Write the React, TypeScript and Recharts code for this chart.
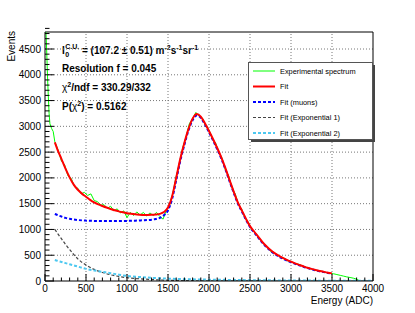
import {
  ComposedChart,
  Line,
  XAxis,
  YAxis,
  ReferenceLine,
  Legend,
  Customized,
} from "recharts";

// experimental spectrum (histogram contents)
const spectrumEnergy = [
  10, 20, 30, 40, 50, 60, 80, 100, 120, 160, 200, 240, 280, 320, 360, 400,
  440, 480, 520, 560, 600, 640, 680, 720, 760, 800, 840, 880, 920, 960, 1000,
  1040, 1080, 1120, 1160, 1200, 1240, 1280, 1320, 1360, 1400, 1440, 1480,
  1520, 1560, 1600, 1640, 1680, 1720, 1760, 1800, 1840, 1880, 1920, 1960,
  2000, 2040, 2080, 2120, 2160, 2200, 2240, 2280, 2320, 2360, 2400, 2440,
  2480, 2520, 2560, 2600, 2640, 2680, 2720, 2760, 2800, 2840, 2880, 2920,
  2960, 3000, 3040, 3080, 3120, 3160, 3200, 3240, 3280, 3320, 3360, 3400,
  3440, 3480, 3520, 3560, 3600, 3640, 3680, 3720, 3760, 3800, 3840,
];
const spectrumCounts = [
  4900, 4500, 4000, 3600, 3250, 3050, 2960, 2900, 2700, 2540, 2330, 2250,
  2040, 1990, 1830, 1800, 1690, 1720, 1660, 1690, 1560, 1540, 1470, 1480,
  1410, 1450, 1360, 1400, 1320, 1360, 1230, 1330, 1270, 1340, 1280, 1330,
  1260, 1320, 1270, 1330, 1250, 1200, 1380, 1480, 1710, 2030, 2280, 2590,
  2790, 3050, 3150, 3270, 3200, 3160, 3000, 2930, 2760, 2680, 2500, 2380,
  2150, 2040, 1810, 1690, 1480, 1390, 1210, 1140, 1000, 950, 840, 780, 690,
  640, 560, 540, 500, 450, 440, 390, 380, 340, 330, 310, 270, 260, 240, 210,
  205, 190, 180, 158, 150, 140, 125, 110, 95, 80, 68, 55, 35, 0,
];

// fit and its muon component
const fitEnergy = [
  120, 150, 200, 250, 300, 350, 400, 450, 500, 550, 600, 650, 700, 750, 800,
  850, 900, 950, 1000, 1050, 1100, 1150, 1200, 1250, 1300, 1350, 1400, 1450,
  1500, 1550, 1600, 1650, 1700, 1750, 1800, 1850, 1900, 1950, 2000, 2050,
  2100, 2150, 2200, 2250, 2300, 2350, 2400, 2450, 2500, 2550, 2600, 2650,
  2700, 2750, 2800, 2850, 2900, 2950, 3000, 3050, 3100, 3150, 3200, 3250,
  3300, 3350, 3400, 3450, 3500,
];
const fitTotal = [
  2690, 2560, 2370, 2180, 2010, 1870, 1770, 1695, 1635, 1575, 1525, 1487,
  1455, 1425, 1398, 1372, 1350, 1332, 1316, 1303, 1293, 1286, 1281, 1280,
  1283, 1290, 1302, 1338, 1425, 1640, 2000, 2370, 2680, 2950, 3150, 3240,
  3190, 3060, 2910, 2750, 2580, 2400, 2190, 1960, 1740, 1530, 1370, 1210,
  1065, 960, 860, 760, 675, 600, 540, 490, 448, 410, 375, 343, 313, 285, 258,
  235, 214, 195, 178, 162, 148,
];
const fitMuons = [
  1300, 1280, 1250, 1225, 1207, 1193, 1183, 1176, 1171, 1168, 1166, 1164,
  1163, 1162, 1162, 1162, 1163, 1164, 1166, 1168, 1171, 1174, 1178, 1183,
  1190, 1202, 1225, 1275, 1370, 1590, 1955, 2330, 2645, 2920, 3120, 3212,
  3165, 3035, 2885, 2725, 2555, 2376, 2167, 1938, 1718, 1509, 1350, 1190,
  1046, 942, 842, 743, 659, 585, 526, 477, 435, 398, 364, 333, 304, 277, 250,
  228, 207, 188, 172, 156, 142,
];

// exponential components
const expEnergy = [
  120, 150, 200, 250, 300, 400, 500, 600, 700, 800, 900, 1000, 1200, 1400,
  1600, 1800, 2000, 2500, 3000, 3500, 4000,
];
const fitExp1 = [
  1000, 930, 820, 710, 610, 430, 310, 225, 165, 120, 88, 64, 38, 20, 11, 6, 3,
  1, 0, 0, 0,
];
const fitExp2 = [
  407, 392, 370, 347, 325, 280, 235, 205, 178, 152, 122, 98, 72, 52, 40, 32,
  26, 16, 10, 6, 3,
];

const xMajor = [0, 500, 1000, 1500, 2000, 2500, 3000, 3500, 4000];
const yMajor = [0, 500, 1000, 1500, 2000, 2500, 3000, 3500, 4000, 4500];
const Y_MAX = 4830;

const legendItems = [
  { name: "Experimental spectrum", color: "#00ff00", width: 1, dash: "" },
  { name: "Fit", color: "#ff0000", width: 2, dash: "" },
  { name: "Fit (muons)", color: "#0000ff", width: 2, dash: "3 2" },
  { name: "Fit (Exponential 1)", color: "#444444", width: 1.2, dash: "3 2" },
  { name: "Fit (Exponential 2)", color: "#4dc8f0", width: 2, dash: "3 2" },
];

const toPoints = (xs: number[], ys: number[]) =>
  xs.map((e, i) => ({ e, v: ys[i] }));

const spectrumData = toPoints(spectrumEnergy, spectrumCounts);
const totalData = toPoints(fitEnergy, fitTotal);
const muonData = toPoints(fitEnergy, fitMuons);
const exp1Data = toPoints(expEnergy, fitExp1);
const exp2Data = toPoints(expEnergy, fitExp2);

// minor ticks every 100 between the major ones
const xTicks = xMajor.flatMap((v, i) =>
  i < xMajor.length - 1 ? [v, v + 100, v + 200, v + 300, v + 400] : [v]
);
const yTicks = yMajor.flatMap((v) => [v, v + 100, v + 200, v + 300, v + 400]);

const FONT = "'Liberation Sans', Arial, sans-serif";

const XTick = ({ x, y, payload }: any) => {
  const major = payload.value % 500 === 0;
  return (
    <g>
      <line x1={x} x2={x} y1={y} y2={y - (major ? 7 : 3.5)} stroke="#000" />
      {major && (
        <text x={x} y={y + 11} textAnchor="middle" fontSize={10} fontFamily={FONT} fill="#000">
          {payload.value}
        </text>
      )}
    </g>
  );
};

const YTick = ({ x, y, payload }: any) => {
  const major = payload.value % 500 === 0;
  return (
    <g>
      <line x1={x} x2={x + (major ? 9 : 4.5)} y1={y} y2={y} stroke="#000" />
      {major && (
        <text x={x - 4} y={y + 3.5} textAnchor="end" fontSize={10} fontFamily={FONT} fill="#000">
          {payload.value}
        </text>
      )}
    </g>
  );
};

const renderLegend = () => (
  <svg width={128} height={81}>
    <rect x={3} y={3} width={124} height={77} fill="#444" />
    <rect x={0.5} y={0.5} width={124} height={77} fill="#fff" stroke="#555" />
    {legendItems.map((item, i) => {
      const cy = 9 + i * 15.5;
      return (
        <g key={item.name}>
          <line
            x1={5}
            x2={27}
            y1={cy}
            y2={cy}
            stroke={item.color}
            strokeWidth={item.width}
            strokeDasharray={item.dash}
          />
          <text x={32} y={cy + 2.6} fontSize={7.4} fontFamily={FONT} fill="#000">
            {item.name}
          </text>
        </g>
      );
    })}
  </svg>
);

const Annotations = () => (
  <g fontFamily={FONT} fontWeight="bold" fill="#000">
    <text x={62} y={54} fontSize={10}>
      <tspan>I</tspan>
      <tspan fontSize={7} dx={0.5} dy={3}>0</tspan>
      <tspan fontSize={7} dx={-4} dy={-8}>C.U.</tspan>
      <tspan fontSize={10} dy={5}> = (107.2 ±  0.51) m</tspan>
      <tspan fontSize={7} dy={-4}>-2</tspan>
      <tspan fontSize={10} dy={4}>s</tspan>
      <tspan fontSize={7} dy={-4}>-1</tspan>
      <tspan fontSize={10} dy={4}>sr</tspan>
      <tspan fontSize={7} dy={-4}>-1</tspan>
    </text>
    <text x={62} y={72} fontSize={10}>Resolution f = 0.045</text>
    <text x={62} y={91} fontSize={10}>
      <tspan fontWeight="normal">χ</tspan>
      <tspan fontSize={7} dy={-4}>2</tspan>
      <tspan dy={4}>/ndf = 330.29/332</tspan>
    </text>
    <text x={62} y={110} fontSize={10}>
      <tspan>P(</tspan>
      <tspan fontWeight="normal">χ</tspan>
      <tspan fontSize={7} dy={-4}>2</tspan>
      <tspan dy={4}>) = 0.5162</tspan>
    </text>
    <text
      x={0}
      y={0}
      fontSize={10}
      fontWeight="normal"
      textAnchor="end"
      transform="translate(15,31) rotate(-90)"
    >
      Events
    </text>
    <text x={373} y={304} fontSize={10} fontWeight="normal" textAnchor="end">
      Energy (ADC)
    </text>
  </g>
);

export default function App() {
  return (
    <div style={{ position: "absolute", left: 0, top: 0, width: 415, height: 313, background: "#fff" }}>
      <ComposedChart
        width={415}
        height={313}
        margin={{ top: 32, right: 42, bottom: 0, left: 0 }}
      >
        <XAxis
          dataKey="e"
          type="number"
          domain={[0, 4000]}
          ticks={xTicks}
          interval={0}
          tickSize={0}
          tickMargin={0}
          tickLine={false}
          tick={<XTick />}
          height={32}
          stroke="#000"
          allowDataOverflow
        />
        <YAxis
          type="number"
          domain={[0, Y_MAX]}
          ticks={yTicks}
          interval={0}
          tickSize={0}
          tickMargin={0}
          tickLine={false}
          tick={<YTick />}
          width={45}
          stroke="#000"
          allowDataOverflow
        />
        {xMajor.slice(1, -1).map((v) => (
          <ReferenceLine key={`gx-${v}`} x={v} stroke="#777" strokeDasharray="1 2" />
        ))}
        {yMajor.slice(1).map((v) => (
          <ReferenceLine key={`gy-${v}`} y={v} stroke="#777" strokeDasharray="1 2" />
        ))}
        <ReferenceLine x={4000} stroke="#000" />
        <ReferenceLine y={Y_MAX} stroke="#000" />
        <Line
          data={spectrumData}
          dataKey="v"
          stroke="#00ff00"
          strokeWidth={1}
          dot={false}
          type="linear"
          isAnimationActive={false}
        />
        <Line
          data={muonData}
          dataKey="v"
          stroke="#0000ff"
          strokeWidth={2}
          strokeDasharray="3 2"
          dot={false}
          type="monotone"
          isAnimationActive={false}
        />
        <Line
          data={exp1Data}
          dataKey="v"
          stroke="#444444"
          strokeWidth={1.2}
          strokeDasharray="3 2"
          dot={false}
          type="monotone"
          isAnimationActive={false}
        />
        <Line
          data={exp2Data}
          dataKey="v"
          stroke="#4dc8f0"
          strokeWidth={2}
          strokeDasharray="3 2"
          dot={false}
          type="monotone"
          isAnimationActive={false}
        />
        <Line
          data={totalData}
          dataKey="v"
          stroke="#ff0000"
          strokeWidth={2}
          dot={false}
          type="monotone"
          isAnimationActive={false}
        />
        <Legend
          layout="vertical"
          align="center"
          verticalAlign="middle"
          content={renderLegend}
          wrapperStyle={{ left: 248, top: 62, width: 128, height: 81 }}
        />
        <Customized component={Annotations} />
      </ComposedChart>
    </div>
  );
}
